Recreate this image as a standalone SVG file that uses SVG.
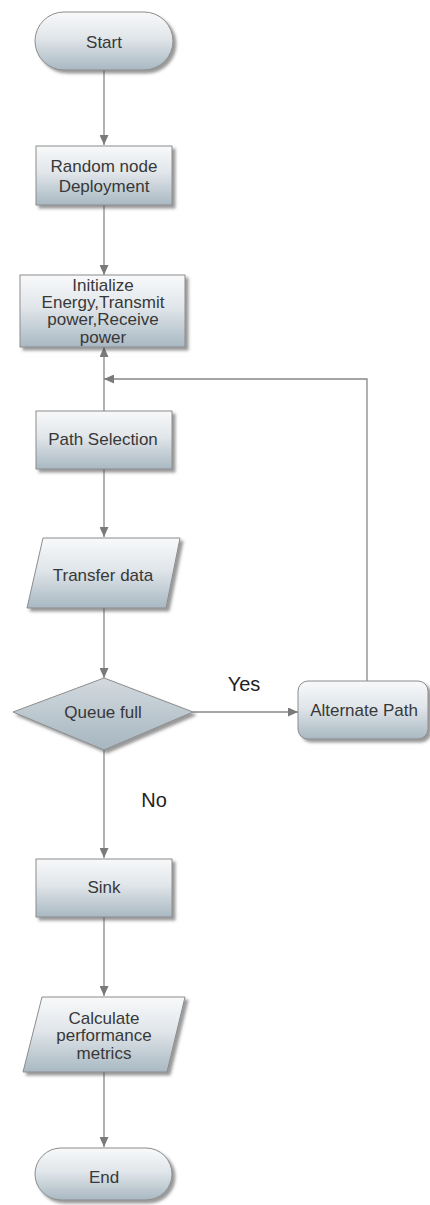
<svg xmlns="http://www.w3.org/2000/svg" width="430" height="1205" viewBox="0 0 430 1205">
<defs>
<linearGradient id="g" x1="0" y1="0" x2="0" y2="1">
<stop offset="0" stop-color="#f8f9fa"/>
<stop offset="0.45" stop-color="#e1e6ea"/>
<stop offset="1" stop-color="#a8b8c2"/>
</linearGradient>
<linearGradient id="gd" x1="0" y1="0" x2="0" y2="1">
<stop offset="0" stop-color="#d3dadf"/>
<stop offset="1" stop-color="#a6b6c0"/>
</linearGradient>
<filter id="sh" x="-10%" y="-10%" width="130%" height="140%">
<feDropShadow dx="3" dy="3" stdDeviation="1.8" flood-color="#444" flood-opacity="0.55"/>
</filter>
<marker id="ah" markerUnits="userSpaceOnUse" markerWidth="10" markerHeight="9" refX="10" refY="4.5" orient="auto">
<path d="M0,0 L10,4.5 L0,9 z" fill="#7a7a7a"/>
</marker>
<style>
.n{fill:url(#g);stroke:#8c8c8c;stroke-width:1;filter:url(#sh)}
.d{fill:url(#gd);stroke:#8c8c8c;stroke-width:1;filter:url(#sh)}
.t{font-family:"Liberation Sans",Arial,sans-serif;font-size:17px;fill:#383838;text-anchor:middle;dominant-baseline:central}
.l{font-family:"Liberation Sans",Arial,sans-serif;font-size:20px;fill:#222;text-anchor:middle;dominant-baseline:central}
.c{fill:none;stroke:#888;stroke-width:1.3}
</style>
</defs>
<g id="connectors">
<path class="c" d="M104,70 V145" marker-end="url(#ah)"/>
<path class="c" d="M104,205 V275" marker-end="url(#ah)"/>
<path class="c" d="M104,411 V347" marker-end="url(#ah)"/>
<path class="c" d="M367,681 V379 H104" marker-end="url(#ah)"/>
<path class="c" d="M104,469 V537" marker-end="url(#ah)"/>
<path class="c" d="M104,608 V678" marker-end="url(#ah)"/>
<path class="c" d="M193,712 H298" marker-end="url(#ah)"/>
<path class="c" d="M104,750 V858" marker-end="url(#ah)"/>
<path class="c" d="M104,917 V996" marker-end="url(#ah)"/>
<path class="c" d="M104,1072 V1147" marker-end="url(#ah)"/>
<text class="l" x="244" y="684">Yes</text>
<text class="l" x="154" y="800">No</text>
</g>
<g id="start">
<rect class="n" x="35" y="12" width="138" height="58" rx="29"/>
<text class="t" x="104" y="42">Start</text>
</g>
<g id="deploy">
<rect class="n" x="36" y="146" width="136" height="59"/>
<text class="t" x="104" y="166">Random node</text>
<text class="t" x="104" y="186">Deployment</text>
</g>
<g id="init">
<rect class="n" x="20" y="275" width="165" height="72"/>
<text class="t" x="103" y="285">Initialize</text>
<text class="t" x="103" y="302">Energy,Transmit</text>
<text class="t" x="103" y="319">power,Receive</text>
<text class="t" x="103" y="337">power</text>
</g>
<g id="path">
<rect class="n" x="36" y="411" width="136" height="58"/>
<text class="t" x="103" y="439">Path Selection</text>
</g>
<g id="transfer">
<polygon class="n" points="43,538 180,538 166,608 27,608"/>
<text class="t" x="103" y="575">Transfer data</text>
</g>
<g id="queue">
<polygon class="d" points="104,678 193,712 104,750 13,712"/>
<text class="t" x="103" y="712">Queue full</text>
</g>
<g id="alternate">
<rect class="n" x="298" y="681" width="130" height="58" rx="10"/>
<text class="t" x="364" y="710">Alternate Path</text>
</g>
<g id="sink">
<rect class="n" x="36" y="859" width="136" height="58"/>
<text class="t" x="104" y="887">Sink</text>
</g>
<g id="calc">
<polygon class="n" points="42,997 185,997 167,1072 23,1072"/>
<text class="t" x="104" y="1018">Calculate</text>
<text class="t" x="104" y="1035">performance</text>
<text class="t" x="104" y="1053">metrics</text>
</g>
<g id="end">
<rect class="n" x="35" y="1148" width="137" height="52" rx="26"/>
<text class="t" x="104" y="1177">End</text>
</g>
</svg>
